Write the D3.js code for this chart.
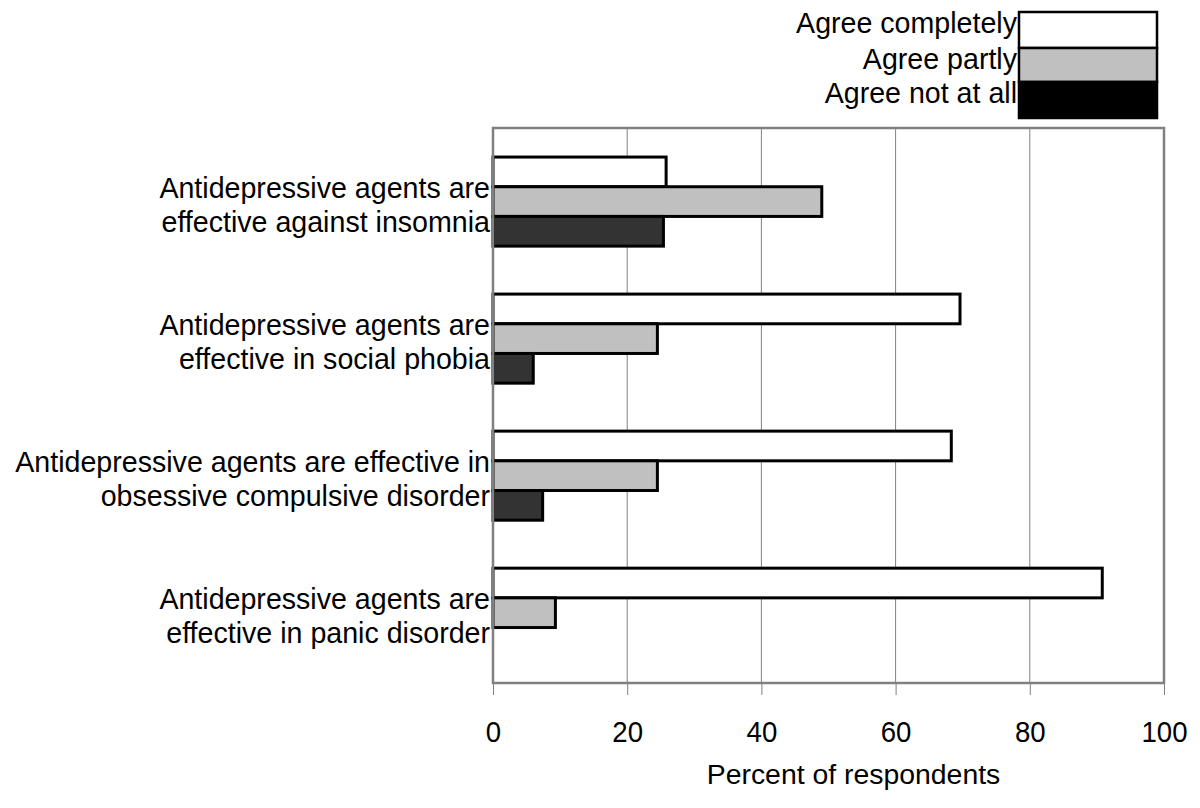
<!DOCTYPE html>
<html><head><meta charset="utf-8">
<script src="https://cdn.jsdelivr.net/npm/d3@7"></script>
<style>body{margin:0;background:#fff}svg{display:block}text{font-family:"Liberation Sans",Arial,sans-serif;fill:#000}</style>
</head><body><svg id="c" width="1200" height="808"></svg>
<script>
const categories = [
  ["Antidepressive agents are", "effective against insomnia"],
  ["Antidepressive agents are", "effective in social phobia"],
  ["Antidepressive agents are effective in", "obsessive compulsive disorder"],
  ["Antidepressive agents are", "effective in panic disorder"]
];
const seriesNames = ["Agree completely", "Agree partly", "Agree not at all"];
const agreeCompletely = [25.8, 69.6, 68.3, 90.8];
const agreePartly = [49.0, 24.5, 24.5, 9.3];
const agreeNotAtAll = [25.4, 6.0, 7.4, 0];
const xTicks = [0, 20, 40, 60, 80, 100];
const axisTitle = "Percent of respondents";

const barFill = ["#ffffff", "#c0c0c0", "#333333"];
const legendFill = ["#ffffff", "#c0c0c0", "#000000"];
const series = [agreeCompletely, agreePartly, agreeNotAtAll];

(function () {
const svg = d3.select("#c");
const pl = 493, pr = 1164, pt = 128, pb = 683;
const x = d3.scaleLinear().domain([0, 100]).range([pl, pr]);
const y = d3.scaleBand().domain(d3.range(categories.length)).range([pt, pb]).paddingInner(0.35).paddingOuter(0.2).align(0.53);
const ySub = d3.scaleBand().domain(d3.range(3)).range([0, y.bandwidth()]);

// gridlines
svg.append("g").selectAll("line").data(xTicks.slice(1, -1)).join("line")
  .attr("x1", d => x(d)).attr("x2", d => x(d)).attr("y1", pt).attr("y2", pb)
  .attr("stroke", "#808080").attr("stroke-width", 1);

// axis
const axis = d3.axisBottom(x).tickValues(xTicks).tickSize(12).tickPadding(10);
const ag = svg.append("g").attr("transform", `translate(0,${pb})`).call(axis);
ag.select(".domain").remove();
ag.selectAll(".tick line").attr("stroke", "#808080").attr("stroke-width", 1);
ag.selectAll(".tick text").attr("font-size", 30).attr("font-family", "Liberation Sans, Arial, sans-serif")
  .attr("fill", "#000").attr("dy", "1.23em").attr("transform", "scale(0.92,1)");

// bars
categories.forEach((c, i) => {
  series.forEach((s, j) => {
    if (s[i] <= 0) return;
    svg.append("rect")
      .attr("x", x(0)).attr("y", y(i) + ySub(j))
      .attr("width", x(s[i]) - x(0)).attr("height", ySub.bandwidth())
      .attr("fill", barFill[j]).attr("stroke", "#000").attr("stroke-width", 3);
  });
});

// frame
svg.append("rect").attr("x", pl).attr("y", pt).attr("width", pr - pl).attr("height", pb - pt)
  .attr("fill", "none").attr("stroke", "#808080").attr("stroke-width", 2.5);

// category labels
categories.forEach((c, i) => {
  const cy = y(i) + y.bandwidth() / 2;
  const t = svg.append("text").attr("text-anchor", "end").attr("font-size", 28.6);
  c.forEach((line, k) => {
    t.append("tspan").attr("x", pl - 3).attr("y", cy - 4 + k * 34).text(line);
  });
});

// axis title
svg.append("text").attr("x", (pl + pr) / 2 + 25).attr("y", 784).attr("text-anchor", "middle")
  .attr("font-size", 28.4).text(axisTitle);

// legend
const lx = 1019, lw = 138, ly = [12, 48, 82, 118];
seriesNames.forEach((n, j) => {
  svg.append("rect").attr("x", lx).attr("y", ly[j]).attr("width", lw).attr("height", ly[j + 1] - ly[j])
    .attr("fill", legendFill[j]).attr("stroke", "#000").attr("stroke-width", 2.5);
  svg.append("text").attr("x", lx - 2).attr("y", ly[j] + 21).attr("text-anchor", "end").attr("font-size", 28.6).text(n);
});
})();
</script></body></html>
